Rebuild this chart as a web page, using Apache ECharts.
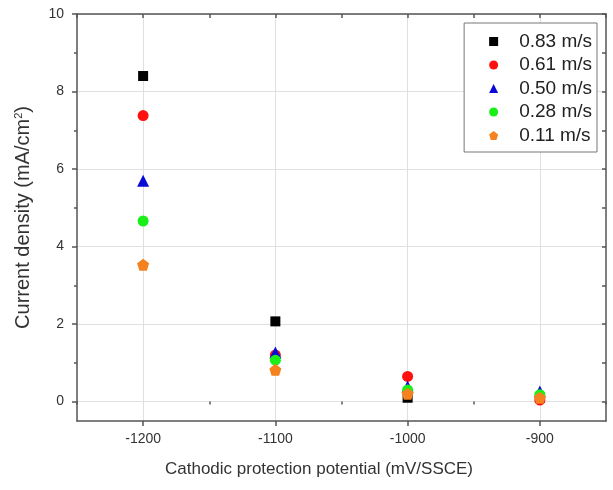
<!DOCTYPE html>
<html lang="en">
<head>
    <meta charset="UTF-8">
    <title>Current density vs potential</title>
    <script src="https://cdn.jsdelivr.net/npm/echarts@6/dist/echarts.min.js"></script>
    <style>
        html, body { margin: 0; padding: 0; background: #fff; }
        #main { width: 613px; height: 490px; }
    </style>
</head>
<body>
<div id="main"></div>
<script>
    // potentials (mV/SSCE)
    var potentials = [-1200, -1100, -1000, -900];
    // current density (mA/cm2) per flow velocity
    var v083 = [8.40, 2.07, 0.10, 0.10];
    var v061 = [7.38, 1.20, 0.65, 0.04];
    var v050 = [5.70, 1.27, 0.39, 0.26];
    var v028 = [4.66, 1.07, 0.30, 0.18];
    var v011 = [3.53, 0.82, 0.20, 0.10];
    var names = ['0.83 m/s', '0.61 m/s', '0.50 m/s', '0.28 m/s', '0.11 m/s'];
    var yLabels = [0, 2, 4, 6, 8, 10];
    var yMinor = [1, 3, 5, 7, 9];
    var yAll = [0, 1, 2, 3, 4, 5, 6, 7, 8, 9, 10];
    var xMinor = [-1250, -1150, -1050, -950, -850];

    var pentagon = 'path://M50,0 L100,38 L81,100 L19,100 L0,38 Z';

    function pairs(vals) {
        return potentials.map(function (p, i) { return [p, vals[i]]; });
    }

    var myChart = echarts.init(document.getElementById('main'));
    var axisCol = '#555';
    var textCol = '#333';
    var font = 'Arial, "Liberation Sans", sans-serif';

    var option = {
        animation: false,
        backgroundColor: '#fff',
        textStyle: { fontFamily: font },
        grid: { left: 77, right: 7, top: 14, bottom: 69 },
        legend: {
            orient: 'vertical',
            right: 16,
            top: 23,
            padding: [9, 5, 7, 25],
            itemGap: 4.5,
            itemWidth: 9,
            itemHeight: 9,
            borderColor: '#777',
            borderWidth: 1,
            backgroundColor: '#fff',
            textStyle: { fontSize: 19, lineHeight: 19, color: '#222', fontFamily: font, padding: [0, 0, 0, 16] },
            data: names
        },
        xAxis: [{
            type: 'value', min: -1250, max: -850,
            position: 'bottom',
            axisLine: { onZero: false, lineStyle: { color: axisCol, width: 1.5 } },
            axisTick: { customValues: potentials, length: 5, inside: false, lineStyle: { color: axisCol, width: 1.5 } },
            axisLabel: { customValues: potentials, fontSize: 14, color: textCol, margin: 11,
                formatter: function (v) { return String(v); } },
            splitLine: { show: true, lineStyle: { color: '#e0e0e0', width: 1 } },
            name: 'Cathodic protection potential (mV/SSCE)',
            nameLocation: 'middle', nameGap: 40,
            nameTextStyle: { fontSize: 17, color: textCol, padding: [0, 45, 0, 0] }
        }, {
            type: 'value', min: -1250, max: -850, position: 'bottom',
            axisLine: { show: false },
            axisTick: { customValues: xMinor, length: 3, lineStyle: { color: axisCol, width: 1.5 } },
            axisLabel: { show: false }, splitLine: { show: false }
        }, {
            type: 'value', min: -1250, max: -850, position: 'top',
            axisLine: { onZero: false, lineStyle: { color: axisCol, width: 1.5 } },
            axisTick: { customValues: potentials.concat(xMinor), inside: true, length: 4, lineStyle: { color: axisCol, width: 1.5 } },
            axisLabel: { show: false }, splitLine: { show: false }
        }],
        yAxis: [{
            type: 'value', min: -0.5, max: 10,
            position: 'left',
            axisLine: { onZero: false, show: true, lineStyle: { color: axisCol, width: 1.5 } },
            axisTick: { show: true, customValues: yLabels, length: 5, lineStyle: { color: axisCol, width: 1.5 } },
            axisLabel: { customValues: yLabels, fontSize: 14, color: textCol, margin: 13 },
            splitLine: { show: true, lineStyle: { color: '#e0e0e0', width: 1 } },
            name: 'Current density (mA/cm{sup|2})',
            nameLocation: 'middle', nameGap: 44,
            nameTextStyle: {
                fontSize: 20, color: textCol,
                rich: { sup: { fontSize: 11, verticalAlign: 'top', padding: [0, 0, 9, 0], color: textCol } }
            }
        }, {
            type: 'value', min: -0.5, max: 10, position: 'left',
            axisLine: { show: false },
            axisTick: { show: true, customValues: yMinor, length: 3, lineStyle: { color: axisCol, width: 1.5 } },
            axisLabel: { show: false }, splitLine: { show: false }
        }, {
            type: 'value', min: -0.5, max: 10, position: 'right',
            axisLine: { onZero: false, show: true, lineStyle: { color: axisCol, width: 1.5 } },
            axisTick: { show: true, customValues: yAll, inside: true, length: 4, lineStyle: { color: axisCol, width: 1.5 } },
            axisLabel: { show: false }, splitLine: { show: false }
        }],
        series: [
            { name: names[0], type: 'scatter', data: pairs(v083), symbol: 'rect', symbolSize: 10, itemStyle: { color: '#000000', opacity: 1 }, z: 5 },
            { name: names[1], type: 'scatter', data: pairs(v061), symbol: 'circle', symbolSize: 11, itemStyle: { color: '#ff1010', opacity: 1 }, z: 6 },
            { name: names[2], type: 'scatter', data: pairs(v050), symbol: 'triangle', symbolSize: 12, itemStyle: { color: '#0a0ad8', opacity: 1 }, z: 7 },
            { name: names[3], type: 'scatter', data: pairs(v028), symbol: 'circle', symbolSize: 11, itemStyle: { color: '#18f018', opacity: 1 }, z: 8 },
            { name: names[4], type: 'scatter', data: pairs(v011), symbol: pentagon, symbolSize: 12, itemStyle: { color: '#f5821e', opacity: 1 }, z: 9 }
        ]
    };
    myChart.setOption(option);
</script>
</body>
</html>
